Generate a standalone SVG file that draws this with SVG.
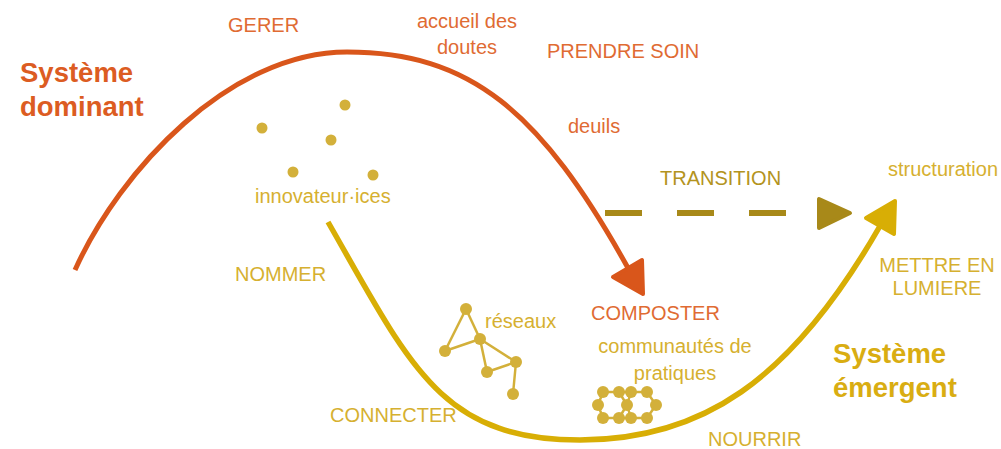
<svg xmlns="http://www.w3.org/2000/svg" width="1001" height="449" viewBox="0 0 1001 449">
  <style>
    text { font-family: "Liberation Sans", Arial, sans-serif; font-size: 20px; }
    .or { fill: #E06B33; }
    .ye { fill: #D6B030; }
    .title { font-size: 27.5px; font-weight: bold; }
    .title-or { fill: #DC5C22; }
    .title-ye { fill: #D9AD12; }
    .dot { fill: #D3B03A; }
    .net { stroke: #D3B03A; stroke-width: 2.5; fill: none; }
    .curve-or { fill: none; stroke: #D9561B; stroke-width: 5; stroke-linecap: butt; }
    .curve-ye { fill: none; stroke: #D8AE05; stroke-width: 5.5; stroke-linecap: butt; }
    .head-or { fill: #D9561B; stroke: #D9561B; stroke-width: 4; stroke-linejoin: round; }
    .head-ye { fill: #D8AE05; stroke: #D8AE05; stroke-width: 4; stroke-linejoin: round; }
    .dash { fill: none; stroke: #A88919; stroke-width: 6; stroke-dasharray: 37 35; }
    .head-dash { fill: #A88919; stroke: #A88919; stroke-width: 4; stroke-linejoin: round; }
  </style>

  <!-- connectors: dominant curve, emergent curve, transition -->
  <g id="connectors">
    <g id="dominant-curve">
      <path class="curve-or" d="M75,270 C120,170 230,52 347,52 C470,52 540,110 628,268"/>
      <polygon class="head-or" points="613,277 642,260 643,294"/>
    </g>
    <g id="emergent-curve">
      <path class="curve-ye" d="M328,222 C410,365 440,440 580,440 C700,440 790,383 880,226"/>
      <polygon class="head-ye" points="866,218 894,234 895,201"/>
    </g>
    <g id="transition">
      <line class="dash" x1="605" y1="213" x2="787" y2="213"/>
      <polygon class="head-dash" points="819,199 819,228 850,213"/>
    </g>
  </g>

  <!-- dominant system -->
  <g id="systeme-dominant">
    <text class="title title-or" x="20" y="82">Système</text>
    <text class="title title-or" x="20" y="116">dominant</text>
  </g>
  <g id="gerer"><text class="or" x="228" y="32">GERER</text></g>
  <g id="accueil-des-doutes">
    <text class="or" x="467" y="28" text-anchor="middle">accueil des</text>
    <text class="or" x="467" y="54" text-anchor="middle">doutes</text>
  </g>
  <g id="prendre-soin"><text class="or" x="547" y="58">PRENDRE SOIN</text></g>
  <g id="deuils"><text class="or" x="568" y="133">deuils</text></g>
  <g id="composter"><text class="or" x="591" y="320">COMPOSTER</text></g>

  <!-- innovators -->
  <g id="innovateurs">
    <circle class="dot" cx="262" cy="128" r="5.5"/>
    <circle class="dot" cx="345" cy="105" r="5.5"/>
    <circle class="dot" cx="331" cy="140" r="5.5"/>
    <circle class="dot" cx="293" cy="172" r="5.5"/>
    <circle class="dot" cx="373" cy="175" r="5.5"/>
    <text class="ye" x="255" y="203">innovateur·ices</text>
  </g>

  <!-- transition -->
  <g id="transition-label"><text class="ye" x="660" y="185" style="fill:#B39320">TRANSITION</text></g>

  <!-- emergent system -->
  <g id="nommer"><text class="ye" x="235" y="281">NOMMER</text></g>
  <g id="reseaux">
    <g class="net">
      <line x1="466" y1="309" x2="480" y2="339"/>
      <line x1="466" y1="309" x2="445" y2="351"/>
      <line x1="445" y1="351" x2="480" y2="339"/>
      <line x1="480" y1="339" x2="516" y2="362"/>
      <line x1="480" y1="339" x2="487" y2="372"/>
      <line x1="487" y1="372" x2="516" y2="362"/>
      <line x1="516" y1="362" x2="513" y2="394"/>
    </g>
    <circle class="dot" cx="466" cy="309" r="6"/>
    <circle class="dot" cx="480" cy="339" r="6"/>
    <circle class="dot" cx="445" cy="351" r="6"/>
    <circle class="dot" cx="516" cy="362" r="6"/>
    <circle class="dot" cx="487" cy="372" r="6"/>
    <circle class="dot" cx="513" cy="394" r="6"/>
    <text class="ye" x="485" y="328">réseaux</text>
  </g>
  <g id="connecter"><text class="ye" x="330" y="422">CONNECTER</text></g>
  <g id="communautes">
    <text class="ye" x="675" y="353" text-anchor="middle">communautés de</text>
    <text class="ye" x="675" y="380" text-anchor="middle">pratiques</text>
    <g class="net">
      <polyline points="603,392 619,392 631,392 647,392 656,405 647,418 631,418 619,418 603,418 598,405 603,392"/>
      <polyline points="619,392 627,405 619,418"/>
      <polyline points="631,392 627,405 631,418"/>
    </g>
    <circle class="dot" cx="603" cy="392" r="6"/>
    <circle class="dot" cx="619" cy="392" r="6"/>
    <circle class="dot" cx="631" cy="392" r="6"/>
    <circle class="dot" cx="647" cy="392" r="6"/>
    <circle class="dot" cx="598" cy="405" r="6"/>
    <circle class="dot" cx="627" cy="405" r="6"/>
    <circle class="dot" cx="656" cy="405" r="6"/>
    <circle class="dot" cx="603" cy="418" r="6"/>
    <circle class="dot" cx="619" cy="418" r="6"/>
    <circle class="dot" cx="631" cy="418" r="6"/>
    <circle class="dot" cx="647" cy="418" r="6"/>
  </g>
  <g id="nourrir"><text class="ye" x="708" y="446">NOURRIR</text></g>
  <g id="systeme-emergent">
    <text class="title title-ye" x="833" y="363">Système</text>
    <text class="title title-ye" x="833" y="397">émergent</text>
  </g>
  <g id="mettre-en-lumiere">
    <text class="ye" x="937" y="272" text-anchor="middle">METTRE EN</text>
    <text class="ye" x="937" y="295" text-anchor="middle">LUMIERE</text>
  </g>
  <g id="structuration"><text class="ye" x="888" y="176">structuration</text></g>
</svg>
